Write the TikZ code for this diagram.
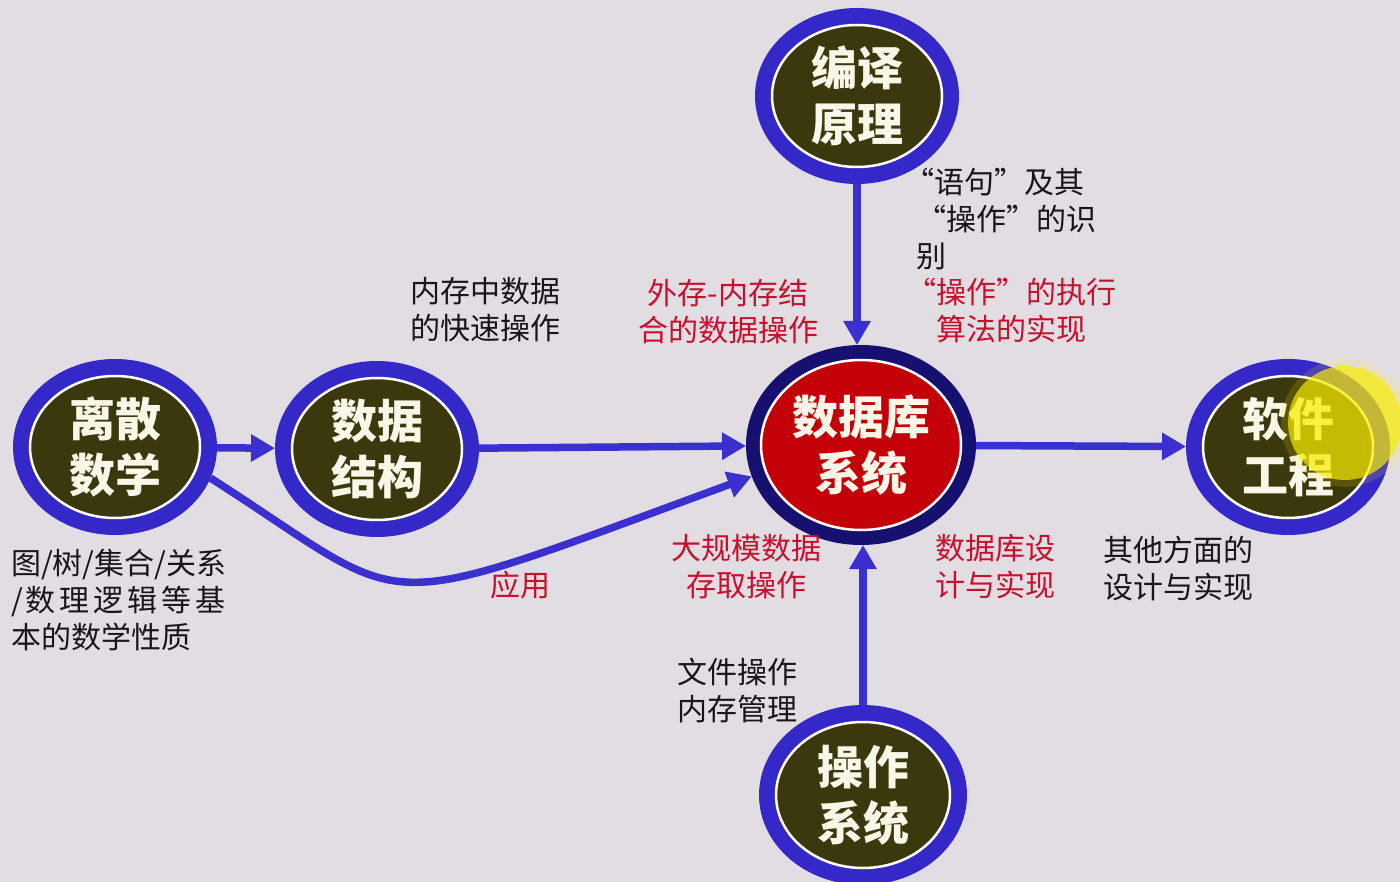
\documentclass[tikz,border=0pt]{standalone}
\usepackage{fontspec}
\usetikzlibrary{shapes.geometric,arrows.meta}
\newfontfamily\cjk{Noto Sans CJK SC}
\newfontfamily\cjkq{Noto Sans CJK SC}[RawFeature=+fwid]
\definecolor{bgcol}{RGB}{226,221,226}
\definecolor{bubfill}{RGB}{60,56,14}
\definecolor{ringblue}{RGB}{52,40,200}
\definecolor{ringnavy}{RGB}{22,16,112}
\definecolor{dbred}{RGB}{196,0,8}
\definecolor{arrblue}{RGB}{58,48,208}
\definecolor{bubtext}{RGB}{250,246,232}
\definecolor{lblblack}{RGB}{24,22,24}
\definecolor{lblred}{RGB}{200,16,46}
\begin{document}
\begin{tikzpicture}[x=1pt,y=1pt,
  bubble/.style={ellipse, fill=bubfill, draw=white, line width=2.5pt, inner sep=0pt,
    outer sep=17pt, minimum width=170pt, minimum height=142pt,
    preaction={draw=ringblue, line width=34pt}},
  dbbubble/.style={ellipse, fill=dbred, draw=white, line width=2.5pt, inner sep=0pt,
    outer sep=15pt, minimum width=200pt, minimum height=170pt,
    preaction={draw=ringnavy, line width=30pt}},
  bubtxt/.style={text=bubtext, font=\cjk\bfseries\fontsize{46}{56}\selectfont, align=center, inner sep=0pt},
  lbl/.style={font=\cjk\fontsize{30}{37}\selectfont, inner sep=0pt, text=lblblack},
  qlbl/.style={lbl, font=\cjkq\fontsize{30}{37}\selectfont},
  rlbl/.style={lbl, text=lblred},
  arr/.style={draw=arrblue, line width=7.5pt, -{Triangle[length=24pt,width=26pt]}},
]
\clip (0,0) rectangle (1400,-882);
\fill[bgcol] (0,0) rectangle (1400,-882);

% bubbles
\node[bubble] (ls) at (115,-447) {};
\node[bubtxt] (lst) at (ls.center) {离散\\数学};
\node[bubble] (ds) at (377,-449) {};
\node[bubtxt] (dst) at (ds.center) {数据\\结构};
\node[bubble] (cp) at (857,-96) {};
\node[bubtxt] (cpt) at (cp.center) {编译\\原理};
\node[bubble] (se) at (1288,-447) {};
\node[bubtxt] (set) at (se.center) {软件\\工程};
\node[bubble, minimum width=174pt, minimum height=146pt] (os) at (863,-795) {};
\node[bubtxt] (ost) at (os.center) {操作\\系统};
\node[dbbubble] (db) at (861,-445) {};
\node[bubtxt] (dbt) at (db.center) {数据库\\系统};

% connectors
\draw[arr] (ls) -- (ds);
\draw[arr] (ds) -- (db);
\draw[arr] (db) -- (se);
\draw[arr] (cp.south) -- (cp.south |- db.north);
\draw[arr] (os.north) -- (os.north |- db.south);
\coordinate (cv1) at (420,-612);
\coordinate (cv2) at (360,-620);
\draw[arr] (ls.-18) .. controls (cv1) and (cv2) .. (db.196);

% labels
\node[lbl, anchor=west, align=left] (t1) at (410,-310) {内存中数据\\的快速操作};
\node[rlbl, align=center] (t2) at (728,-312) {外存-内存结\\合的数据操作};
\node[qlbl, anchor=west, align=left] (t3) at (916,-219) {\hspace*{-12pt}“语句”及其\\“操作”的识\\别};
\node[qlbl, text=lblred, align=center] (t4) at (1011,-311) {“操作”的执行\\算法的实现};
\node[rlbl, align=center] (t5) at (746,-567) {大规模数据\\存取操作};
\node[rlbl, anchor=west, align=left] (t6) at (935,-567) {数据库设\\计与实现};
\node[lbl, anchor=west, align=left] (t7) at (1103,-569) {其他方面的\\设计与实现};
\node[rlbl, anchor=west] (t8) at (490,-585) {应用};
\node[lbl, anchor=west, align=left] (t9) at (11,-600) {图/树/集合/关系\\/\hspace{3pt}数\hspace{4pt}理\hspace{4pt}逻\hspace{4pt}辑\hspace{4pt}等\hspace{4pt}基\\本的数学性质};
\node[lbl, anchor=west, align=left] (t10) at (677,-691) {文件操作\\内存管理};

% spotlight
\fill[yellow, opacity=0.15] (1345,-423) circle (64);
\fill[yellow!95!olive, opacity=0.68] (1345,-423) circle (57);
\end{tikzpicture}
\end{document}
